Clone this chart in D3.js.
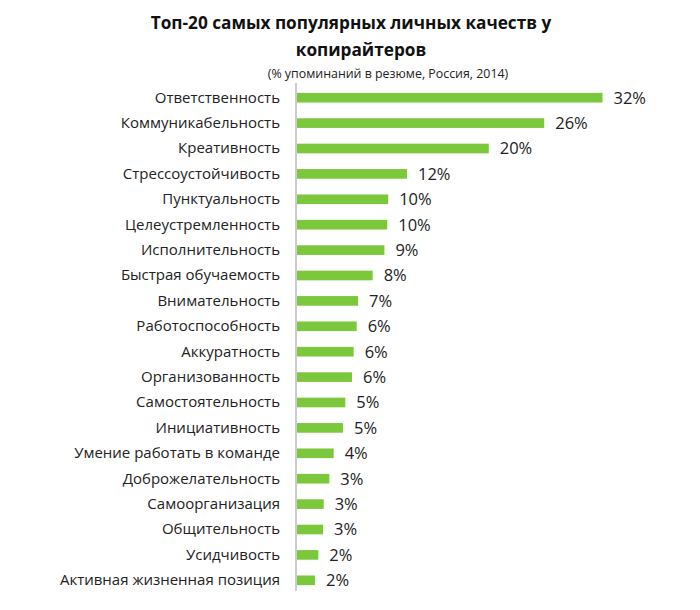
<!DOCTYPE html>
<html><head><meta charset="utf-8">
<script src="https://cdn.jsdelivr.net/npm/d3@7"></script>
<style>body{margin:0;background:#fff;} text{font-family:"Open Sans",sans-serif;}</style>
</head><body>
<svg id="chart" width="700" height="610"></svg>
<script>
const categories = ["Ответственность","Коммуникабельность","Креативность","Стрессоустойчивость","Пунктуальность","Целеустремленность","Исполнительность","Быстрая обучаемость","Внимательность","Работоспособность","Аккуратность","Организованность","Самостоятельность","Инициативность","Умение работать в команде","Доброжелательность","Самоорганизация","Общительность","Усидчивость","Активная жизненная позиция"];
const values = [32.5,26.3,20.4,11.7,9.7,9.6,9.3,8.05,6.5,6.35,6.03,5.85,5.14,4.89,3.9,3.44,2.84,2.77,2.27,1.91];
const valueLabels = ["32%","26%","20%","12%","10%","10%","9%","8%","7%","6%","6%","6%","5%","5%","4%","3%","3%","3%","2%","2%"];
const titleLines = ["Топ-20 самых популярных личных качеств у","копирайтеров"];
const subtitle = "(% упоминаний в резюме, Россия, 2014)";

const svg = d3.select("#chart");
const x0 = 297;
const x = d3.scaleLinear().domain([0, 35]).range([x0, x0 + 9.4*35]);
const y = d3.scaleBand().domain(categories).range([85, 593]).paddingInner(0.62).paddingOuter(0.31);

svg.append("text").attr("x", 351).attr("y", 29).attr("text-anchor","middle")
  .attr("font-size", 17.2).attr("font-weight","bold").attr("fill","#111").text(titleLines[0]);
svg.append("text").attr("x", 361).attr("y", 56).attr("text-anchor","middle")
  .attr("font-size", 17.2).attr("font-weight","bold").attr("fill","#111").text(titleLines[1]);
svg.append("text").attr("x", 388).attr("y", 78).attr("text-anchor","middle")
  .attr("font-size", 12.4).attr("fill","#222").text(subtitle);

svg.selectAll("rect.bar").data(values).join("rect").attr("class","bar")
  .attr("x", x(0)).attr("y", (d,i)=>y(categories[i]))
  .attr("width", d=>x(d)-x(0)).attr("height", y.bandwidth())
  .attr("fill","#7cc83c");

svg.selectAll("text.val").data(values).join("text").attr("class","val")
  .attr("x", d=>x(d)+11).attr("y", (d,i)=>y(categories[i])+y.bandwidth()/2)
  .attr("dy","0.36em").attr("font-size",16.5).attr("fill","#222")
  .text((d,i)=>valueLabels[i]);

const yAxis = d3.axisLeft(y).tickSize(0).tickPadding(16);
const ag = svg.append("g").attr("transform",`translate(${x0-1},0)`).call(yAxis);
ag.select(".domain").attr("stroke","#999").attr("d","M0,83V591");
ag.selectAll("text").attr("font-size",15).attr("fill","#222").attr("font-family","'Open Sans',sans-serif");
</script>
</body></html>
